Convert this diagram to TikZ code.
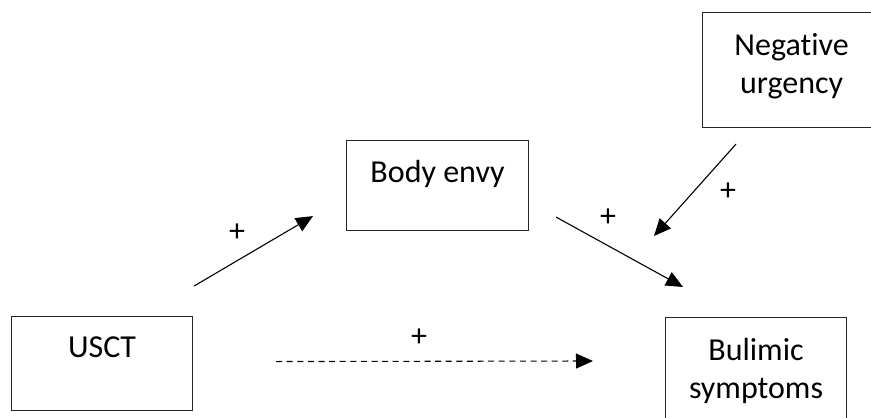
\documentclass[tikz,border=0pt]{standalone}
\usepackage{fontspec}
\setmainfont{Carlito}[Ligatures=NoCommon]
\usepackage{tikz}
\usetikzlibrary{
    positioning,
    arrows.meta
}

\begin{document}
\begin{tikzpicture}[
  x=1pt, y=-1pt,
  font=\fontsize{32}{38.5}\selectfont,
  >=Triangle,
  arrow/.style={-{Triangle[length=17pt, width=15pt]}, line width=1.1pt, draw=black},
  dasharrow/.style={arrow, dash pattern=on 6pt off 4.6pt},
  box/.style={draw=black!85, line width=1.1pt, rectangle, anchor=north west, inner sep=0pt},
  txt/.style={anchor=north, align=center, inner sep=0pt},
  sign/.style={inner sep=0pt}
]
\useasboundingbox (0,0) rectangle (871,418);

% Variable boxes
\node[box, minimum width=181pt, minimum height=94pt] (usct) at (11,316) {};
\node[box, minimum width=182pt, minimum height=90pt] (envy) at (346,140) {};
\node[box, minimum width=182pt, minimum height=115pt] (neg) at (702,12) {};
\node[box, minimum width=181pt, minimum height=110pt] (bul) at (665,317) {};

% Box texts
\node[txt] (usctlab) at ([yshift=-21pt]usct.north) {USCT};
\node[txt] (envylab) at ([yshift=-20pt]envy.north) {Body envy};
\node[txt] (neglab) at ([xshift=-2pt,yshift=-21pt]neg.north) {Negative\\urgency};
\node[txt] (bullab) at ([yshift=-21pt]bul.north) {Bulimic\\symptoms};

% Paths
\draw[arrow] ([xshift=1pt,yshift=30pt]usct.north east) -- ([xshift=-33pt,yshift=15pt]envy.south west);
\draw[arrow] ([xshift=27pt,yshift=14pt]envy.south east) -- ([xshift=18pt,yshift=30pt]bul.north west);
\draw[arrow] ([xshift=34pt,yshift=-16pt]neg.south west) -- ([xshift=-11pt,yshift=81pt]bul.north west);
\draw[dasharrow] ([xshift=83pt,yshift=2pt]usct.east) -- ([xshift=-72pt,yshift=-44pt]bul.north west);

% Signs
\node[sign] (pa) at (237,233) {+};
\node[sign] (pb) at (608,218) {+};
\node[sign] (pc) at (728,192) {+};
\node[sign] (pd) at (419,338) {+};

\end{tikzpicture}
\end{document}
